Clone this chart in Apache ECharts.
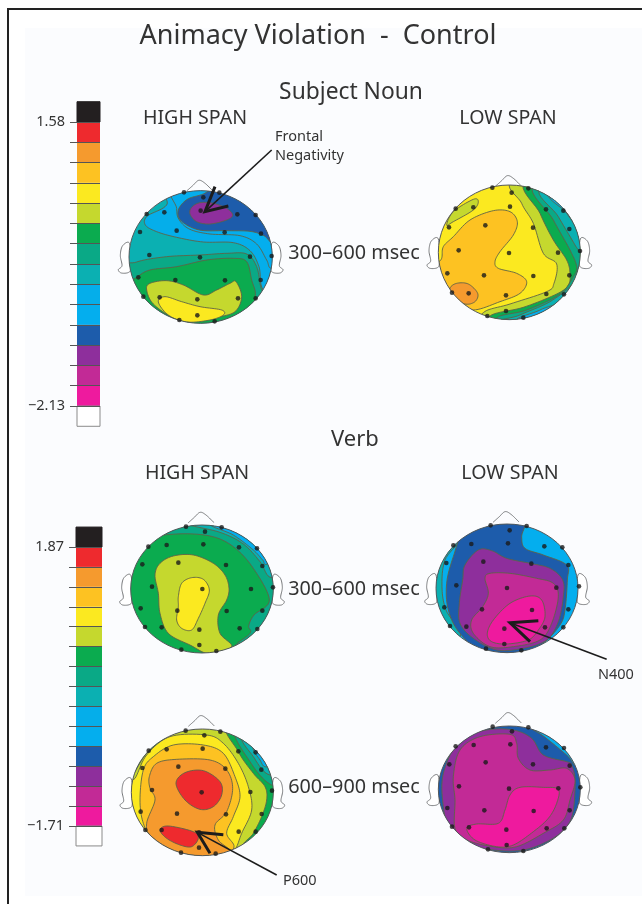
<!DOCTYPE html>
<html><head><meta charset="utf-8">
<style>html,body{margin:0;padding:0;background:#fff}#c{width:642px;height:904px}</style>
<script src="https://cdn.jsdelivr.net/npm/echarts@6/dist/echarts.min.js"></script>
</head><body><div id="c"></div>
<script>
// colour scale, top band to bottom band
const bandColors = ['#231f20','#ee2a2e','#f59a2e','#fdc222','#fbe920','#c5d82e','#0bab4f','#0aa986','#0bb0b2','#05aeea','#04aeee','#1d5cab','#8e2f9c','#c22a96','#ee1a9e','#ffffff'];
const tickLabelsSubject = {1:'\u22122.13',15:'1.58'};
const tickLabelsVerb = {1:'\u22121.71',15:'1.87'};
const bandIndex = bandColors.map((c,i)=>i);

// scalp outline offsets (nose, left ear) from each head's centre, in scalp units
const noseShape = [[-42,-198],[-24,-214],[-6,-230],[12,-222],[36,-199]];
const earShape = [[-213,-40],[-234,-34],[-241,-5],[-236,26],[-247,38],[-238,48],[-216,46],[-210,30]];

// Subject noun, high span: [band, contour points]
const subjHighRegions = [
 [8,[[0,0],[780,0],[780,630],[0,630]]],
 [9,[[190,190],[170,255],[112,288],[106,315],[140,335],[200,352],[280,366],[370,368],[420,392],[447,440],[462,512],[540,520],[540,190]]],
 [10,[[205,190],[200,265],[208,300],[240,328],[300,342],[390,347],[440,372],[470,420],[485,445],[540,420],[540,190]]],
 [11,[[340,195],[280,222],[232,238],[205,270],[214,303],[268,330],[350,332],[420,334],[462,347],[500,372],[560,300],[520,180]]],
 [12,[[240,282],[245,262],[270,248],[310,250],[350,265],[368,285],[350,300],[300,312],[260,305]]],
 [7,[[40,455],[80,426],[170,410],[270,405],[350,400],[410,402],[440,440],[452,500],[462,535],[430,590],[330,650],[40,650]]],
 [6,[[50,500],[80,472],[120,450],[200,440],[290,420],[370,415],[410,425],[425,480],[436,525],[415,575],[330,620],[180,650],[50,600]]],
 [5,[[110,510],[120,490],[170,482],[220,495],[280,525],[320,510],[360,490],[378,485],[395,530],[375,575],[320,592],[260,602],[190,592],[130,552]]],
 [4,[[145,546],[165,530],[215,545],[270,560],[335,570],[340,585],[300,600],[230,606],[175,585]]]
];
const subjHighElectrodes = [[222,217],[280,232],[328,218],[110,282],[163,277],[272,272],[382,283],[437,285],[90,336],[200,332],[344,337],[453,341],[118,405],[270,412],[420,410],[485,408],[85,472],[196,480],[345,481],[452,480],[100,530],[149,532],[262,538],[384,535],[437,535],[262,586],[208,600],[314,604]];
const subjHighArrow = [[315,200],[285,275],[355,258]];
const subjHighArrowTail = [[285,275],[485,90]];

// Subject noun, low span
const subjLowRegions = [
 [4,[[0,0],[600,0],[600,510],[0,510]]],
 [5,[[318,60],[335,130],[370,190],[400,280],[440,312],[432,370],[410,395],[300,432],[220,458],[220,510],[640,510],[640,40]]],
 [6,[[352,60],[390,160],[430,240],[470,300],[480,340],[475,375],[440,402],[340,442],[240,468],[250,520],[640,520],[640,40]]],
 [7,[[375,70],[430,180],[480,270],[500,320],[490,350],[450,402],[350,450],[260,474],[270,530],[640,530],[640,40]]],
 [8,[[395,80],[445,170],[495,255],[525,310],[490,370],[420,425],[330,465],[290,490],[640,530],[640,40]]],
 [10,[[420,90],[470,160],[520,230],[560,300],[480,410],[390,450],[330,490],[640,530],[640,40]]],
 [3,[[95,295],[100,260],[130,230],[180,180],[250,152],[300,155],[322,185],[310,225],[270,275],[255,305],[265,325],[320,340],[350,365],[330,400],[270,425],[190,450],[140,425],[100,370],[80,320]]],
 [2,[[120,385],[140,370],[175,372],[203,400],[195,425],[165,432],[130,410]]],
 [5,[[110,195],[130,155],[190,118],[205,125],[190,150],[130,185]]]
];
const subjLowElectrodes = [[247,83],[305,98],[355,85],[137,146],[190,142],[300,140],[408,148],[460,152],[117,202],[226,196],[369,203],[478,207],[146,271],[297,279],[444,278],[510,273],[112,340],[222,346],[370,348],[478,346],[126,398],[176,400],[288,406],[409,402],[462,403],[232,468],[288,453],[340,473]];

// Verb 300-600, high span
const verbHighRegions = [
 [6,[[0,0],[570,0],[570,510],[0,510]]],
 [7,[[60,170],[110,118],[200,102],[300,108],[370,140],[430,205],[478,300],[432,345],[416,378],[420,400],[372,445],[420,490],[560,400],[560,30],[40,30]]],
 [8,[[225,70],[330,97],[400,132],[450,185],[482,232],[540,200],[500,40],[230,40]]],
 [10,[[300,70],[370,105],[430,150],[458,180],[472,192],[540,150],[400,40]]],
 [5,[[135,225],[150,190],[190,168],[250,165],[310,190],[345,225],[357,265],[350,300],[325,345],[330,400],[365,440],[300,462],[240,435],[175,400],[150,340],[145,280]]],
 [4,[[205,290],[215,250],[245,233],[280,238],[298,270],[285,310],[265,355],[245,390],[215,385],[200,360],[205,320]]]
];
const verbHighElectrodes = [[228,80],[285,95],[335,82],[115,140],[170,135],[280,133],[387,142],[441,145],[97,193],[205,188],[348,195],[457,198],[126,260],[277,267],[423,267],[489,262],[92,325],[202,332],[350,333],[457,332],[105,381],[155,382],[268,389],[389,385],[442,387],[268,435],[214,449],[319,453]];

// Verb 300-600, low span
const verbLowRegions = [
 [10,[[0,0],[696,0],[696,570],[0,570]]],
 [8,[[150,110],[105,180],[96,260],[108,330],[150,410],[30,430],[30,110]]],
 [11,[[170,70],[240,55],[340,60],[335,110],[345,145],[400,165],[470,195],[472,240],[465,330],[450,375],[400,430],[330,475],[230,470],[150,400],[115,330],[110,250],[130,170]]],
 [12,[[158,240],[165,195],[205,150],[245,152],[290,175],[360,190],[420,205],[458,240],[460,290],[445,365],[410,420],[340,445],[260,450],[190,415],[150,370],[148,310]]],
 [13,[[225,235],[240,220],[300,220],[380,235],[430,250],[445,290],[425,370],[390,420],[310,440],[240,440],[190,400],[185,360],[218,320],[235,280]]],
 [14,[[232,400],[250,360],[300,310],[360,288],[395,300],[405,350],[385,390],[355,420],[290,432],[245,425]]]
];
const verbLowElectrodes = [[242,76],[299,91],[350,78],[130,136],[184,132],[294,130],[403,139],[457,142],[109,189],[220,185],[364,191],[475,195],[139,256],[291,264],[439,263],[507,259],[103,322],[216,328],[366,330],[475,328],[120,378],[169,380],[283,386],[405,382],[460,382],[283,432],[228,446],[334,451]];
const verbLowArrow = [[385,362],[300,368],[360,425]];
const verbLowArrowTail = [[300,368],[590,478]];

// Verb 600-900, high span
const lateHighRegions = [
 [5,[[0,0],[690,0],[690,570],[0,570]]],
 [6,[[55,250],[75,215],[110,160],[165,112],[130,60],[30,150]]],
 [4,[[50,245],[75,235],[110,165],[180,110],[290,105],[340,130],[385,190],[415,260],[425,330],[395,400],[375,450],[340,490],[200,490],[50,400]]],
 [3,[[90,300],[100,210],[130,170],[190,135],[280,135],[340,160],[375,230],[390,290],[370,350],[350,400],[372,440],[340,475],[220,475],[130,420],[100,370]]],
 [2,[[118,230],[140,190],[200,178],[300,180],[350,210],[368,265],[350,335],[315,375],[325,420],[360,455],[300,470],[200,455],[125,410],[110,370],[135,300],[120,265]]],
 [1,[[198,250],[225,218],[280,212],[330,245],[335,285],[310,320],[270,328],[225,300]]],
 [1,[[150,390],[175,378],[250,395],[265,415],[245,440],[210,435],[170,415]]],
 [6,[[355,70],[385,155],[430,220],[465,260],[470,300],[455,350],[430,400],[405,440],[560,420],[560,60]]],
 [7,[[375,85],[420,185],[485,255],[560,250],[500,60]]],
 [8,[[395,100],[430,170],[480,225],[560,200],[500,60]]],
 [9,[[430,130],[450,180],[475,200],[560,160],[500,70]]]
];
const lateHighElectrodes = [[227,92],[283,106],[331,95],[116,152],[170,148],[278,146],[385,154],[437,157],[97,204],[205,200],[346,206],[454,209],[126,270],[275,277],[421,276],[486,272],[92,335],[201,341],[348,343],[455,342],[106,390],[155,390],[267,397],[386,395],[437,395],[267,443],[213,458],[317,461]];
const lateHighArrow = [[340,404],[262,397],[300,460]];
const lateHighArrowTail = [[262,397],[500,525]];

// Verb 600-900, low span
const lateLowRegions = [
 [11,[[0,0],[600,0],[600,540],[0,540]]],
 [10,[[330,60],[400,108],[470,165],[510,200],[570,100],[400,30]]],
 [12,[[100,220],[150,120],[230,90],[310,90],[365,115],[400,165],[470,185],[485,195],[495,240],[490,330],[470,380],[420,420],[340,450],[250,450],[170,430],[120,390],[100,320]]],
 [13,[[130,230],[150,150],[210,110],[300,103],[320,130],[325,175],[360,210],[420,210],[470,205],[495,240],[480,300],[460,360],[400,400],[320,440],[250,440],[170,420],[135,385],[135,300]]],
 [14,[[170,385],[200,372],[265,370],[285,330],[300,285],[330,262],[400,262],[445,268],[440,310],[415,355],[370,395],[310,435],[260,440],[195,420]]]
];
const lateLowElectrodes = [[248,80],[306,94],[355,82],[137,139],[191,135],[301,133],[408,142],[462,144],[118,193],[227,187],[369,193],[479,197],[147,259],[297,266],[445,265],[511,262],[112,324],[223,331],[371,333],[479,331],[126,380],[177,382],[289,389],[410,385],[463,385],[290,435],[234,448],[340,453]];

const LINE = '#5f6347', FONT = '"Noto Sans", sans-serif', TEXT = '#333';

const heads = [
 {box:[110,120,260,210], c:[272,411,215,199], regions:subjHighRegions, pts:subjHighElectrodes, arrow:subjHighArrow, tail:subjHighArrowTail},
 {box:[410,160,200,170], c:[298,277,213,202], regions:subjLowRegions, pts:subjLowElectrodes},
 {box:[110,500,190,170], c:[276,267,214,192], regions:verbHighRegions, pts:verbHighElectrodes},
 {box:[410,500,232,190], c:[291,265,213,193], regions:verbLowRegions, pts:verbLowElectrodes, arrow:verbLowArrow, tail:verbLowArrowTail},
 {box:[110,700,230,190], c:[277,277,213,190], regions:lateHighRegions, pts:lateHighElectrodes, arrow:lateHighArrow, tail:lateHighArrowTail},
 {box:[410,700,200,180], c:[298,268,213,190], regions:lateLowRegions, pts:lateLowElectrodes}
];

// Catmull-Rom curve through the read contour points (already converted by the axes)
function curve(pts,closed){
  const n=pts.length,out=[],at=i=>closed?pts[(i+n)%n]:pts[Math.max(0,Math.min(n-1,i))];
  const segs=closed?n:n-1;
  for(let i=0;i<segs;i++){
    const a=at(i-1),b=at(i),c=at(i+1),d=at(i+2);
    for(let k=0;k<10;k++){
      const t=k/10,t2=t*t,t3=t2*t;
      out.push([0,1].map(j=>0.5*(2*b[j]+(c[j]-a[j])*t+(2*a[j]-5*b[j]+4*c[j]-d[j])*t2+(3*b[j]-a[j]-3*c[j]+d[j])*t3)));
    }
  }
  if(!closed)out.push(pts[n-1]);
  return out;
}

const grid=[], xAxis=[], yAxis=[], series=[];
heads.forEach((h,i)=>{
  const [l,t,w,ht]=h.box, [cx,cy,rx,ry]=h.c;
  grid.push({left:l,top:t,width:w,height:ht});
  xAxis.push({type:'value',gridIndex:i,min:0,max:w*3,show:false});
  yAxis.push({type:'value',gridIndex:i,min:0,max:ht*3,inverse:true,show:false});
  const scale=(api)=>{const a=api.coord([cx,cy]),b=api.coord([cx+rx,cy+ry]);return {a,rx:b[0]-a[0],ry:b[1]-a[1]};};
  const outline=(shape,mirror)=>shape.map(p=>[cx+(mirror?-p[0]:p[0]),cy+p[1]]);
  // nose and ears
  series.push({type:'custom',xAxisIndex:i,yAxisIndex:i,z:2,silent:true,clip:false,
    data:[outline(noseShape,false),outline(earShape,false),outline(earShape,true)].map((s,k)=>[s[0][0],s[0][1],k]),
    renderItem(p,api){
      const k=api.value(2);
      const s=[outline(noseShape,false),outline(earShape,false),outline(earShape,true)][k].map(q=>api.coord(q));
      return {type:k===0?'polyline':'polygon',shape:{points:curve(s,k!==0)},style:{fill:k===0?'none':'#fff',stroke:'#77797b',lineWidth:1}};
    }});
  // contour regions, clipped to the scalp
  series.push({type:'custom',xAxisIndex:i,yAxisIndex:i,z:3,silent:true,clip:false,
    data:h.regions.map((r,k)=>[r[1][0][0],r[1][0][1],k]),
    renderItem(p,api){
      const r=h.regions[api.value(2)], e=scale(api);
      return {type:'group',
        clipPath:{type:'ellipse',shape:{cx:e.a[0],cy:e.a[1],rx:e.rx,ry:e.ry}},
        children:[{type:'polygon',shape:{points:curve(r[1].map(q=>api.coord(q)),true)},
          style:{fill:bandColors[r[0]],stroke:LINE,lineWidth:0.9}}]};
    }});
  // scalp rim
  series.push({type:'custom',xAxisIndex:i,yAxisIndex:i,z:4,silent:true,clip:false,
    data:[[cx,cy]],
    renderItem(p,api){const e=scale(api);
      return {type:'ellipse',shape:{cx:e.a[0],cy:e.a[1],rx:e.rx,ry:e.ry},style:{fill:'none',stroke:'#55585a',lineWidth:1}};}});
  // electrodes
  series.push({type:'scatter',xAxisIndex:i,yAxisIndex:i,z:5,silent:true,clip:false,data:h.pts,symbolSize:4.6,itemStyle:{color:'#1a1a1a'}});
  if(h.arrow){
    series.push({type:'custom',xAxisIndex:i,yAxisIndex:i,z:6,silent:true,clip:false,
      data:[h.arrow[1].concat(0),h.arrow[1].concat(1)],
      renderItem(p,api){
        const k=api.value(2);
        const s=(k===0?h.arrow:h.tail).map(q=>api.coord(q));
        return {type:'polyline',shape:{points:s},style:{fill:'none',stroke:'#1c1c1c',lineWidth:k===0?3:1.6}};
      }});
  }
});

function colorBar(box,labels){
  const i=grid.length;
  grid.push({left:box[0],top:box[1],width:box[2],height:box[3]});
  xAxis.push({type:'value',gridIndex:i,min:0,max:1,show:false});
  yAxis.push({type:'value',gridIndex:i,min:1,max:15,interval:1,
    axisLine:{show:false},
    axisTick:{show:true,length:7,lineStyle:{color:'#555',width:1}},
    splitLine:{show:true,lineStyle:{color:'#555',width:1}},
    axisLabel:{show:true,margin:12,hideOverlap:false,fontFamily:FONT,fontSize:14.5,color:TEXT,formatter:v=>labels[v]||''},
    z:6});
  series.push({type:'custom',xAxisIndex:i,yAxisIndex:i,z:2,silent:true,clip:false,
    data:bandIndex.map(b=>[0,15-b,b]),
    renderItem(p,api){
      const b=api.value(2), lo=api.coord([0,api.value(1)]), hi=api.coord([1,api.value(1)+1]);
      return {type:'rect',shape:{x:lo[0],y:hi[1],width:hi[0]-lo[0],height:lo[1]-hi[1]},
        style:{fill:bandColors[b],stroke:b===15?'#8a8a8a':(b===0?'#231f20':null),lineWidth:1}};
    }});
}
colorBar([77,122,23,284],tickLabelsSubject);
colorBar([76,547,26,279],tickLabelsVerb);

const texts=[
 ['Animacy Violation  -  Control',318,36,27,'center'],
 ['Subject Noun',351,93,22.8,'center'],
 ['HIGH SPAN',195,118,19.6,'center'],
 ['LOW SPAN',508,118,19.6,'center'],
 ['300\u2013600 msec',354,253,19.8,'center'],
 ['Frontal',275,137,14.5,'left'],
 ['Negativity',275,156,14.5,'left'],
 ['Verb',355,440,22,'center'],
 ['HIGH SPAN',197,473,19.6,'center'],
 ['LOW SPAN',510,473,19.6,'center'],
 ['300\u2013600 msec',354,589,19.8,'center'],
 ['N400',598,675,14.5,'left'],
 ['600\u2013900 msec',354,787,19.8,'center'],
 ['P600',283,881,14.5,'left']
];
const elements=[
 {type:'rect',z:-2,shape:{x:25,y:28,width:617,height:868},style:{fill:'#fbfcfe'}},
 {type:'polyline',z:-1,shape:{points:[[8,904],[8,9],[642,9]]},style:{fill:'none',stroke:'#222',lineWidth:2}}
].concat(texts.map(t=>({type:'text',z:20,x:t[1],y:t[2],
  style:{text:t[0],fill:TEXT,font:t[3]+'px '+FONT,textAlign:t[4],textVerticalAlign:'middle'}})));

const chart=echarts.init(document.getElementById('c'),null,{renderer:'canvas'});
chart.setOption({animation:false,backgroundColor:'#fff',grid,xAxis,yAxis,series,graphic:{elements}});
</script></body></html>
